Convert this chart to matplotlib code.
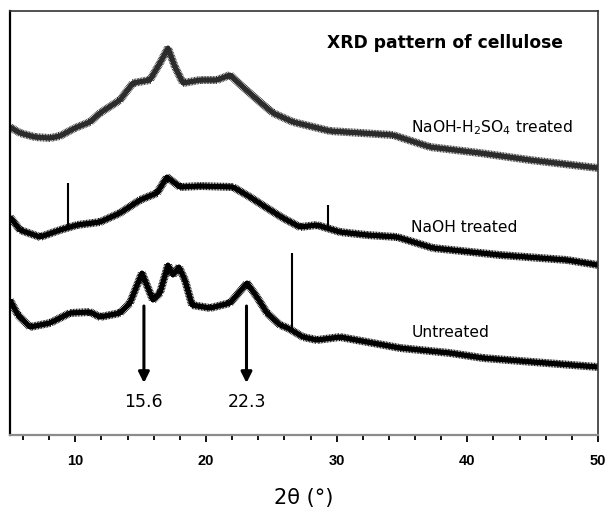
import matplotlib.pyplot as plt
import matplotlib.patheffects as pe
import numpy as np

# 2theta / intensity (a.u.)
two_theta_acid = [5.0, 5.77, 6.91, 8.06, 8.83, 9.97, 11.12, 11.89, 13.42, 14.41, 15.71, 16.48, 17.09,
                  17.63, 18.24, 19.54, 20.84, 21.84, 22.83, 24.13, 25.13, 26.66, 29.49, 34.31, 37.14,
                  40.97, 44.80, 50.0]
int_acid = [308, 302, 298, 297, 299, 307, 313, 322, 335, 352, 355, 372, 387,
            368, 352, 355, 355, 360, 348, 333, 322, 313, 304, 300, 288,
            282, 275, 267]

two_theta_naoh = [5.0, 5.77, 7.30, 8.83, 10.13, 11.89, 13.42, 14.95, 16.25, 17.01, 18.01, 19.54, 22.07,
                  23.37, 24.67, 25.89, 27.19, 28.49, 30.25, 32.32, 34.62, 37.37, 42.50, 47.63, 50.0]
int_naoh = [218, 205, 198, 205, 210, 213, 222, 235, 242, 258, 248, 249, 248,
            238, 227, 217, 208, 210, 203, 200, 198, 187, 180, 175, 170]

two_theta_raw = [5.0, 5.61, 6.53, 8.06, 9.59, 11.12, 11.89, 13.42, 14.18, 15.10, 15.94, 16.48, 17.09,
                 17.47, 17.93, 18.39, 18.93, 20.31, 21.84, 23.14, 23.90, 24.67, 25.66, 26.27, 27.42,
                 28.49, 30.25, 34.85, 38.67, 41.20, 45.03, 50.0]
int_raw = [135, 120, 108, 112, 122, 123, 118, 122, 132, 162, 135, 142, 170,
           160, 168, 155, 130, 127, 132, 152, 138, 122, 110, 107, 98,
           95, 98, 87, 82, 77, 73, 68]

# sharp reflections (position, base, top)
spike_pos = [9.44, 29.3, 26.6]
spike_base = [207, 206, 105]
spike_top = [252, 230, 182]

curve_labels = ['NaOH-H$_2$SO$_4$ treated', 'NaOH treated', 'Untreated']
label_y = [307, 208, 103]
peak_pos = [15.25, 23.1]
peak_text = ['15.6', '22.3']

fig = plt.figure(figsize=(6.08, 5.08), dpi=100)
ax = fig.add_axes([0.0164, 0.1437, 0.9672, 0.8346])

curves = [(two_theta_acid, int_acid, '#2b2b2b'),
          (two_theta_naoh, int_naoh, 'black'),
          (two_theta_raw, int_raw, 'black')]
for x, y, c in curves:
    # fuzzy band to mimic the noisy raw scan
    fx = [pe.withTickedStroke(angle=90, spacing=1.1, length=2.6, linewidth=0.6, foreground=c),
          pe.withTickedStroke(angle=-90, spacing=1.1, length=2.6, linewidth=0.6, foreground=c)]
    ax.plot(x, y, color=c, lw=3.4, solid_capstyle='butt', path_effects=fx)

ax.vlines(spike_pos, spike_base, spike_top, color='black', lw=1.5)

for lab, ly in zip(curve_labels, label_y):
    ax.text(35.7, ly, lab, fontsize=11.2, va='center', ha='left')

ax.text(38.3, 392, 'XRD pattern of cellulose', fontsize=12.3, fontweight='bold',
        ha='center', va='center')

for px, t in zip(peak_pos, peak_text):
    ax.annotate('', xy=(px, 52), xytext=(px, 129),
                arrowprops=dict(arrowstyle='-|>', color='black', lw=2.2,
                                mutation_scale=16, shrinkA=0, shrinkB=0))
    ax.text(px, 33, t, fontsize=12.5, ha='center', va='center')

ax.set_xlim(5, 50)
ax.set_ylim(0, 424)
ax.set_yticks([])
ax.set_xticks([10, 20, 30, 40, 50])
ax.set_xticks(np.arange(6, 50, 2), minor=True)
ax.tick_params(axis='x', which='major', length=5, width=1.3, pad=9, direction='out')
ax.tick_params(axis='x', which='minor', length=3.5, width=1.3, direction='out')
for lab in ax.get_xticklabels():
    lab.set_fontfamily('Liberation Sans')
    lab.set_fontweight('bold')
    lab.set_fontsize(10.5)

ax.spines['left'].set_linewidth(1.6)
ax.spines['left'].set_color('black')
ax.spines['bottom'].set_linewidth(1.6)
ax.spines['bottom'].set_color('#8c8c8c')
ax.spines['top'].set_color('#333333')
ax.spines['right'].set_color('#333333')
ax.spines['top'].set_linewidth(1.2)
ax.spines['right'].set_linewidth(1.2)

ax.set_xlabel('2θ (°)', fontsize=15, labelpad=14)

fig.savefig('out.png', dpi=100)
